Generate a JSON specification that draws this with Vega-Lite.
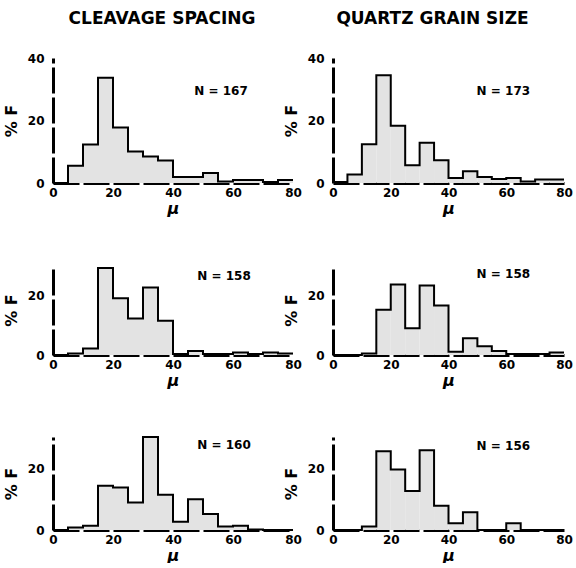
{
  "$schema": "https://vega.github.io/schema/vega-lite/v6.json",
  "padding": {"left": 3, "top": 10, "right": 0, "bottom": 0},
  "background": "white",
  "datasets": {
    "h": [
      {"panel":"a","lo":0,"hi":5,"pct":0},{"panel":"a","lo":5,"hi":10,"pct":5.5},{"panel":"a","lo":10,"hi":15,"pct":12.3},{"panel":"a","lo":15,"hi":20,"pct":33.7},
      {"panel":"a","lo":20,"hi":25,"pct":17.8},{"panel":"a","lo":25,"hi":30,"pct":10.1},{"panel":"a","lo":30,"hi":35,"pct":8.5},{"panel":"a","lo":35,"hi":40,"pct":7.2},
      {"panel":"a","lo":40,"hi":45,"pct":1.9},{"panel":"a","lo":45,"hi":50,"pct":1.9},{"panel":"a","lo":50,"hi":55,"pct":3.2},{"panel":"a","lo":55,"hi":60,"pct":0.5},
      {"panel":"a","lo":60,"hi":65,"pct":1},{"panel":"a","lo":65,"hi":70,"pct":1},{"panel":"a","lo":70,"hi":75,"pct":0.3},{"panel":"a","lo":75,"hi":80,"pct":1},
      {"panel":"b","lo":0,"hi":5,"pct":0.3},{"panel":"b","lo":5,"hi":10,"pct":2.7},{"panel":"b","lo":10,"hi":15,"pct":12.4},{"panel":"b","lo":15,"hi":20,"pct":34.5},
      {"panel":"b","lo":20,"hi":25,"pct":18.3},{"panel":"b","lo":25,"hi":30,"pct":5.7},{"panel":"b","lo":30,"hi":35,"pct":12.9},{"panel":"b","lo":35,"hi":40,"pct":7.3},
      {"panel":"b","lo":40,"hi":45,"pct":1.6},{"panel":"b","lo":45,"hi":50,"pct":3.8},{"panel":"b","lo":50,"hi":55,"pct":1.9},{"panel":"b","lo":55,"hi":60,"pct":1.3},
      {"panel":"b","lo":60,"hi":65,"pct":1.6},{"panel":"b","lo":65,"hi":70,"pct":0.5},{"panel":"b","lo":70,"hi":75,"pct":1.1},{"panel":"b","lo":75,"hi":80,"pct":1.1},
      {"panel":"c","lo":0,"hi":5,"pct":0},{"panel":"c","lo":5,"hi":10,"pct":0.5},{"panel":"c","lo":10,"hi":15,"pct":2.2},{"panel":"c","lo":15,"hi":20,"pct":29},
      {"panel":"c","lo":20,"hi":25,"pct":18.9},{"panel":"c","lo":25,"hi":30,"pct":12.2},{"panel":"c","lo":30,"hi":35,"pct":22.5},{"panel":"c","lo":35,"hi":40,"pct":11.4},
      {"panel":"c","lo":40,"hi":45,"pct":0.3},{"panel":"c","lo":45,"hi":50,"pct":1.3},{"panel":"c","lo":50,"hi":55,"pct":0.3},{"panel":"c","lo":55,"hi":60,"pct":0.3},
      {"panel":"c","lo":60,"hi":65,"pct":0.8},{"panel":"c","lo":65,"hi":70,"pct":0.3},{"panel":"c","lo":70,"hi":75,"pct":0.8},{"panel":"c","lo":75,"hi":80,"pct":0.5},
      {"panel":"d","lo":0,"hi":5,"pct":0},{"panel":"d","lo":5,"hi":10,"pct":0},{"panel":"d","lo":10,"hi":15,"pct":0.5},{"panel":"d","lo":15,"hi":20,"pct":15.1},
      {"panel":"d","lo":20,"hi":25,"pct":23.5},{"panel":"d","lo":25,"hi":30,"pct":8.9},{"panel":"d","lo":30,"hi":35,"pct":23.2},{"panel":"d","lo":35,"hi":40,"pct":16.5},
      {"panel":"d","lo":40,"hi":45,"pct":1.1},{"panel":"d","lo":45,"hi":50,"pct":5.6},{"panel":"d","lo":50,"hi":55,"pct":2.9},{"panel":"d","lo":55,"hi":60,"pct":1.3},
      {"panel":"d","lo":60,"hi":65,"pct":0.3},{"panel":"d","lo":65,"hi":70,"pct":0.3},{"panel":"d","lo":70,"hi":75,"pct":0.3},{"panel":"d","lo":75,"hi":80,"pct":0.8},
      {"panel":"e","lo":0,"hi":5,"pct":0},{"panel":"e","lo":5,"hi":10,"pct":0.8},{"panel":"e","lo":10,"hi":15,"pct":1.4},{"panel":"e","lo":15,"hi":20,"pct":14.3},
      {"panel":"e","lo":20,"hi":25,"pct":13.7},{"panel":"e","lo":25,"hi":30,"pct":8.9},{"panel":"e","lo":30,"hi":35,"pct":30},{"panel":"e","lo":35,"hi":40,"pct":11.4},
      {"panel":"e","lo":40,"hi":45,"pct":2.7},{"panel":"e","lo":45,"hi":50,"pct":9.9},{"panel":"e","lo":50,"hi":55,"pct":5.2},{"panel":"e","lo":55,"hi":60,"pct":1.1},
      {"panel":"e","lo":60,"hi":65,"pct":1.4},{"panel":"e","lo":65,"hi":70,"pct":0.2},{"panel":"e","lo":70,"hi":75,"pct":0},{"panel":"e","lo":75,"hi":80,"pct":0},
      {"panel":"f","lo":0,"hi":5,"pct":0},{"panel":"f","lo":5,"hi":10,"pct":0},{"panel":"f","lo":10,"hi":15,"pct":1.1},{"panel":"f","lo":15,"hi":20,"pct":25.4},
      {"panel":"f","lo":20,"hi":25,"pct":19.5},{"panel":"f","lo":25,"hi":30,"pct":12.6},{"panel":"f","lo":30,"hi":35,"pct":25.7},{"panel":"f","lo":35,"hi":40,"pct":7.8},
      {"panel":"f","lo":40,"hi":45,"pct":2.2},{"panel":"f","lo":45,"hi":50,"pct":5.7},{"panel":"f","lo":50,"hi":55,"pct":0},{"panel":"f","lo":55,"hi":60,"pct":0},
      {"panel":"f","lo":60,"hi":65,"pct":2.2},{"panel":"f","lo":65,"hi":70,"pct":0},{"panel":"f","lo":70,"hi":75,"pct":0},{"panel":"f","lo":75,"hi":80,"pct":0}
    ],
    "n": [
      {"panel":"a","label":"N = 167"},{"panel":"b","label":"N = 173"},
      {"panel":"c","label":"N = 158"},{"panel":"d","label":"N = 158"},
      {"panel":"e","label":"N = 160"},{"panel":"f","label":"N = 156"}
    ]
  },
  "columns": 2,
  "bounds": "flush",
  "spacing": {"row": 82, "column": 40},
  "concat": [
    {
      "width": 240, "height": 125,
      "title": {"text": "CLEAVAGE SPACING", "frame": "group", "dx": -11},
      "layer": [
        {"data": {"name": "h"}, "transform": [{"filter": "datum.panel === 'a'"}],
         "mark": {"type": "rect", "fill": "#e3e3e3"},
         "encoding": {
           "x": {"field": "lo", "type": "quantitative", "scale": {"domain": [0, 80]}, "axis": {"values": [0, 20, 40, 60, 80], "title": "μ"}},
           "x2": {"field": "hi"},
           "y": {"field": "pct", "type": "quantitative", "scale": {"domain": [0, 40]}, "axis": {"values": [0, 20, 40], "title": "% F"}},
           "y2": {"datum": 0}}},
        {"data": {"name": "h"}, "transform": [{"filter": "datum.panel === 'a'"}, {"fold": ["lo", "hi"], "as": ["edge", "xv"]}],
         "mark": {"type": "line", "color": "black", "strokeWidth": 2},
         "encoding": {"x": {"field": "xv", "type": "quantitative"}, "y": {"field": "pct", "type": "quantitative"}, "order": [{"field": "lo"}, {"field": "xv"}]}},
        {"data": {"name": "n"}, "transform": [{"filter": "datum.panel === 'a'"}],
         "mark": {"type": "text"},
         "encoding": {"x": {"datum": 56}, "y": {"datum": 29.5}, "text": {"field": "label"}}}
      ]
    },
    {
      "width": 231, "height": 125,
      "title": {"text": "QUARTZ GRAIN SIZE", "frame": "group", "dx": -16},
      "layer": [
        {"data": {"name": "h"}, "transform": [{"filter": "datum.panel === 'b'"}],
         "mark": {"type": "rect", "fill": "#e3e3e3"},
         "encoding": {
           "x": {"field": "lo", "type": "quantitative", "scale": {"domain": [0, 80]}, "axis": {"values": [0, 20, 40, 60, 80], "title": "μ"}},
           "x2": {"field": "hi"},
           "y": {"field": "pct", "type": "quantitative", "scale": {"domain": [0, 40]}, "axis": {"values": [0, 20, 40], "title": "% F"}},
           "y2": {"datum": 0}}},
        {"data": {"name": "h"}, "transform": [{"filter": "datum.panel === 'b'"}, {"fold": ["lo", "hi"], "as": ["edge", "xv"]}],
         "mark": {"type": "line", "color": "black", "strokeWidth": 2},
         "encoding": {"x": {"field": "xv", "type": "quantitative"}, "y": {"field": "pct", "type": "quantitative"}, "order": [{"field": "lo"}, {"field": "xv"}]}},
        {"data": {"name": "n"}, "transform": [{"filter": "datum.panel === 'b'"}],
         "mark": {"type": "text"},
         "encoding": {"x": {"datum": 59}, "y": {"datum": 29.5}, "text": {"field": "label"}}}
      ]
    },
    {
      "width": 240, "height": 90,
      "layer": [
        {"data": {"name": "h"}, "transform": [{"filter": "datum.panel === 'c'"}],
         "mark": {"type": "rect", "fill": "#e3e3e3"},
         "encoding": {
           "x": {"field": "lo", "type": "quantitative", "scale": {"domain": [0, 80]}, "axis": {"values": [0, 20, 40, 60, 80], "title": "μ"}},
           "x2": {"field": "hi"},
           "y": {"field": "pct", "type": "quantitative", "scale": {"domain": [0, 29]}, "axis": {"values": [0, 20], "title": "% F"}},
           "y2": {"datum": 0}}},
        {"data": {"name": "h"}, "transform": [{"filter": "datum.panel === 'c'"}, {"fold": ["lo", "hi"], "as": ["edge", "xv"]}],
         "mark": {"type": "line", "color": "black", "strokeWidth": 2},
         "encoding": {"x": {"field": "xv", "type": "quantitative"}, "y": {"field": "pct", "type": "quantitative"}, "order": [{"field": "lo"}, {"field": "xv"}]}},
        {"data": {"name": "n"}, "transform": [{"filter": "datum.panel === 'c'"}],
         "mark": {"type": "text"},
         "encoding": {"x": {"datum": 57}, "y": {"datum": 26.5}, "text": {"field": "label"}}}
      ]
    },
    {
      "width": 231, "height": 90,
      "layer": [
        {"data": {"name": "h"}, "transform": [{"filter": "datum.panel === 'd'"}],
         "mark": {"type": "rect", "fill": "#e3e3e3"},
         "encoding": {
           "x": {"field": "lo", "type": "quantitative", "scale": {"domain": [0, 80]}, "axis": {"values": [0, 20, 40, 60, 80], "title": "μ"}},
           "x2": {"field": "hi"},
           "y": {"field": "pct", "type": "quantitative", "scale": {"domain": [0, 29]}, "axis": {"values": [0, 20], "title": "% F"}},
           "y2": {"datum": 0}}},
        {"data": {"name": "h"}, "transform": [{"filter": "datum.panel === 'd'"}, {"fold": ["lo", "hi"], "as": ["edge", "xv"]}],
         "mark": {"type": "line", "color": "black", "strokeWidth": 2},
         "encoding": {"x": {"field": "xv", "type": "quantitative"}, "y": {"field": "pct", "type": "quantitative"}, "order": [{"field": "lo"}, {"field": "xv"}]}},
        {"data": {"name": "n"}, "transform": [{"filter": "datum.panel === 'd'"}],
         "mark": {"type": "text"},
         "encoding": {"x": {"datum": 59}, "y": {"datum": 27}, "text": {"field": "label"}}}
      ]
    },
    {
      "width": 240, "height": 93,
      "layer": [
        {"data": {"name": "h"}, "transform": [{"filter": "datum.panel === 'e'"}],
         "mark": {"type": "rect", "fill": "#e3e3e3"},
         "encoding": {
           "x": {"field": "lo", "type": "quantitative", "scale": {"domain": [0, 80]}, "axis": {"values": [0, 20, 40, 60, 80], "title": "μ"}},
           "x2": {"field": "hi"},
           "y": {"field": "pct", "type": "quantitative", "scale": {"domain": [0, 30]}, "axis": {"values": [0, 20], "title": "% F"}},
           "y2": {"datum": 0}}},
        {"data": {"name": "h"}, "transform": [{"filter": "datum.panel === 'e'"}, {"fold": ["lo", "hi"], "as": ["edge", "xv"]}],
         "mark": {"type": "line", "color": "black", "strokeWidth": 2},
         "encoding": {"x": {"field": "xv", "type": "quantitative"}, "y": {"field": "pct", "type": "quantitative"}, "order": [{"field": "lo"}, {"field": "xv"}]}},
        {"data": {"name": "n"}, "transform": [{"filter": "datum.panel === 'e'"}],
         "mark": {"type": "text"},
         "encoding": {"x": {"datum": 57}, "y": {"datum": 27.5}, "text": {"field": "label"}}}
      ]
    },
    {
      "width": 231, "height": 93,
      "layer": [
        {"data": {"name": "h"}, "transform": [{"filter": "datum.panel === 'f'"}],
         "mark": {"type": "rect", "fill": "#e3e3e3"},
         "encoding": {
           "x": {"field": "lo", "type": "quantitative", "scale": {"domain": [0, 80]}, "axis": {"values": [0, 20, 40, 60, 80], "title": "μ"}},
           "x2": {"field": "hi"},
           "y": {"field": "pct", "type": "quantitative", "scale": {"domain": [0, 30]}, "axis": {"values": [0, 20], "title": "% F"}},
           "y2": {"datum": 0}}},
        {"data": {"name": "h"}, "transform": [{"filter": "datum.panel === 'f'"}, {"fold": ["lo", "hi"], "as": ["edge", "xv"]}],
         "mark": {"type": "line", "color": "black", "strokeWidth": 2},
         "encoding": {"x": {"field": "xv", "type": "quantitative"}, "y": {"field": "pct", "type": "quantitative"}, "order": [{"field": "lo"}, {"field": "xv"}]}},
        {"data": {"name": "n"}, "transform": [{"filter": "datum.panel === 'f'"}],
         "mark": {"type": "text"},
         "encoding": {"x": {"datum": 59}, "y": {"datum": 27}, "text": {"field": "label"}}}
      ]
    }
  ],
  "config": {
    "view": {"stroke": null},
    "font": "DejaVu Sans",
    "title": {"fontSize": 17, "fontWeight": "bold", "color": "black", "offset": 24, "anchor": "middle"},
    "text": {"fontSize": 12, "fontWeight": "bold", "color": "black", "align": "center", "baseline": "middle"},
    "axis": {
      "grid": false, "ticks": false,
      "domainWidth": 3, "domainColor": "black", "domainDash": [26, 4],
      "labelFont": "DejaVu Sans", "labelFontWeight": "bold", "labelFontSize": 12, "labelColor": "black",
      "titleFont": "DejaVu Sans", "titleFontWeight": "bold", "titleColor": "black", "titleFontSize": 16
    },
    "axisX": {"labelPadding": 4, "titlePadding": 2, "titleFontStyle": "italic", "labelFlush": false},
    "axisY": {"labelPadding": 9, "titlePadding": 8, "labelFlush": false}
  }
}
